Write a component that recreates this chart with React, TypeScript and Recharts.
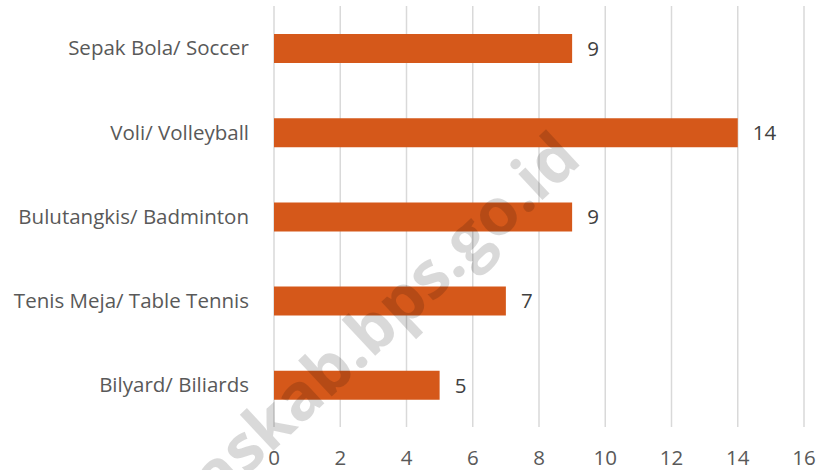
import { Bar, BarChart, CartesianGrid, LabelList, XAxis, YAxis } from "recharts"

const sports = [
  "Sepak Bola/ Soccer",
  "Voli/ Volleyball",
  "Bulutangkis/ Badminton",
  "Tenis Meja/ Table Tennis",
  "Bilyard/ Biliards",
]
const counts = [9, 14, 9, 7, 5]
const xTicks = [0, 2, 4, 6, 8, 10, 12, 14, 16]

const data = sports.map((name, i) => ({ name, value: counts[i] }))

const font = "'Open Sans', sans-serif"

export default function App() {
  return (
    <div style={{ position: "absolute", left: 0, top: 0, width: 823, height: 470, background: "#fff", overflow: "hidden", fontFamily: font }}>
      <BarChart
        width={823}
        height={470}
        data={data}
        layout="vertical"
        margin={{ top: 6, right: 19, bottom: 0, left: 0 }}
      >
        <CartesianGrid horizontal={false} stroke="#d9d9d9" strokeWidth={1.5} />
        <XAxis
          type="number"
          domain={[0, 16]}
          ticks={xTicks}
          axisLine={false}
          tickLine={false}
          tickSize={0}
          tickMargin={23}
          height={43}
          tick={{ fill: "#595959", fontSize: 20.5, fontFamily: font }}
        />
        <YAxis
          type="category"
          dataKey="name"
          width={274}
          axisLine={false}
          tickLine={false}
          tickSize={0}
          tickMargin={25}
          tick={{ fill: "#595959", fontSize: 20.5, fontFamily: font }}
        />
        <Bar dataKey="value" fill="#d5581a" barSize={29} isAnimationActive={false}>
          <LabelList dataKey="value" position="right" offset={15} fill="#404040" fontSize={20.5} fontFamily={font} />
        </Bar>
      </BarChart>
      {/* watermark, runs off the bottom edge like the source */}
      <svg width={823} height={470} style={{ position: "absolute", left: 0, top: 0, pointerEvents: "none" }}>
        <g transform="rotate(-43 358 372)" fontFamily={font} fontWeight={700} fontSize={65} fill="rgba(0,0,0,0.15)">
          <text x={358} y={372} textAnchor="end">askab</text>
          <text x={358} y={372} textAnchor="start">.bps.go.id</text>
        </g>
      </svg>
    </div>
  )
}
